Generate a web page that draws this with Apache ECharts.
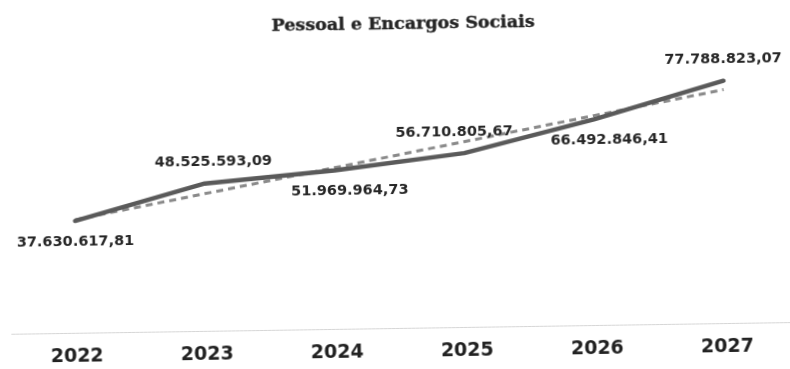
<!DOCTYPE html>
<html>
<head>
<meta charset="utf-8">
<script src="https://cdn.jsdelivr.net/npm/echarts@6/dist/echarts.min.js"></script>
<style>
  html, body { margin: 0; padding: 0; background: #ffffff; }
  #chart { width: 790px; height: 369px; transform: rotate(-0.86deg); transform-origin: 50% 50%; }
</style>
</head>
<body>
<div id="chart"></div>
<script>
// Anos do período
const anos = ['2022', '2023', '2024', '2025', '2026', '2027'];
// Despesa com Pessoal e Encargos Sociais (R$)
const despesas = [37630617.81, 48525593.09, 51969964.73, 56710805.67, 66492846.41, 77788823.07];
// Linha de tendência (R$)
const tendencia = [37990000, 45400000, 52810000, 60230000, 67640000, 75050000];

// Posição de cada rótulo: acima/abaixo e deslocamento horizontal
const rotuloLado = ['bottom', 'top', 'bottom', 'top', 'bottom', 'top'];
const rotuloDx = [0, 9, 15, -10, 15, 0];

function formatBR(v) {
  const fixed = v.toFixed(2);
  const [inteiro, dec] = fixed.split('.');
  return inteiro.replace(/\B(?=(\d{3})+(?!\d))/g, '.') + ',' + dec;
}

const chart = echarts.init(document.getElementById('chart'), null, { renderer: 'canvas' });

chart.setOption({
  backgroundColor: '#ffffff',
  animation: false,
  title: {
    text: 'Pessoal e Encargos Sociais',
    left: 269,
    top: 10,
    textStyle: {
      fontFamily: 'DejaVu Serif',
      fontWeight: 'bold',
      fontSize: 17.5,
      color: '#262626',
      textBorderColor: '#262626',
      textBorderWidth: 0.4
    }
  },
  grid: { left: 9.6, right: -4.4, top: 78.5, bottom: 40.5 },
  xAxis: {
    type: 'category',
    data: anos,
    boundaryGap: true,
    axisLine: { show: true, lineStyle: { color: '#d6d6d6', width: 1, type: [3, 1] } },
    axisTick: { show: false },
    axisLabel: {
      margin: 14,
      fontFamily: 'DejaVu Sans',
      fontWeight: 'bold',
      fontSize: 19,
      color: '#222222'
    }
  },
  yAxis: {
    type: 'value',
    min: 3000000,
    max: 80000000,
    show: false,
    splitLine: { show: false }
  },
  series: [
    {
      name: 'Tendência',
      type: 'line',
      data: tendencia,
      symbol: 'none',
      z: 2,
      lineStyle: { color: '#8a8a8a', width: 3, type: [7, 5] }
    },
    {
      name: 'Pessoal e Encargos Sociais',
      type: 'line',
      data: despesas.map((v, i) => ({
        value: v,
        label: { position: rotuloLado[i], offset: [rotuloDx[i], 0] }
      })),
      symbol: 'circle',
      symbolSize: 1,
      itemStyle: { color: '#5a5a5a' },
      z: 3,
      lineStyle: { color: '#5a5a5a', width: 4.5, cap: 'round', join: 'round' },
      label: {
        show: true,
        distance: 13,
        formatter: p => formatBR(p.value),
        fontFamily: 'DejaVu Sans',
        fontWeight: 'bold',
        fontSize: 14.5,
        color: '#262626'
      }
    }
  ]
});
</script>
</body>
</html>
